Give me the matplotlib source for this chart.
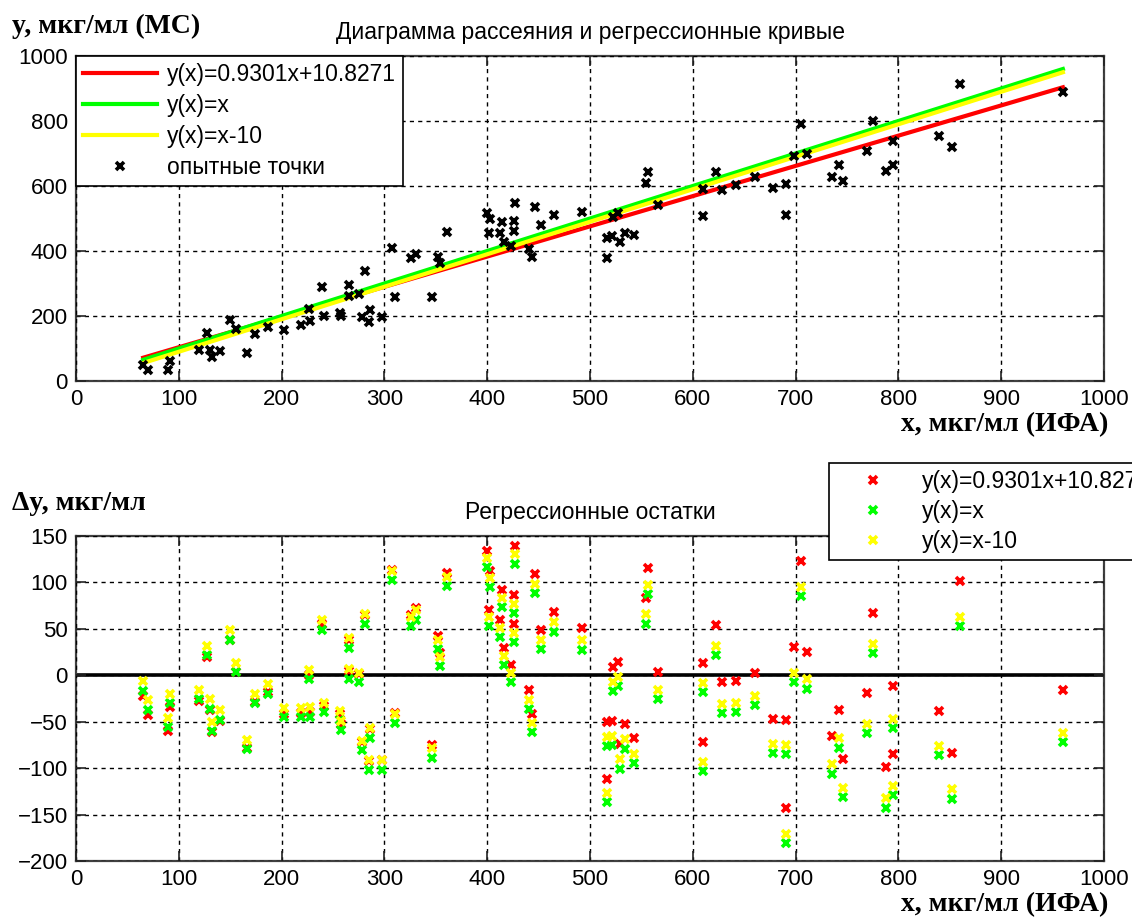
import numpy as np
import matplotlib
matplotlib.use("Agg")
import matplotlib.pyplot as plt
from matplotlib.lines import Line2D

# ---------------- data ----------------
x_exp = [65.4, 69.9, 89.7, 91.9, 119.4, 127.6, 130.8, 132.5, 139.9, 150.2,
         156.1, 166.4, 174.5, 186.9, 202.7, 218.5, 226.3, 228.0, 239.3, 241.0,
         257.1, 258.0, 265.2, 265.2, 275.0, 281.4, 278.2, 286.3, 284.7, 297.7,
         307.4, 309.9, 326.0, 331.0, 346.2, 351.7, 354.3, 360.8, 399.7, 403.0,
         401.3, 414.3, 425.6, 412.6, 426.5, 416.8, 423.3, 427.2, 441.1, 443.4,
         446.6, 452.2, 465.1, 492.0, 516.3, 516.5, 521.0, 522.8, 527.6, 529.3,
         534.1, 543.2, 554.5, 556.8, 566.5, 610.2, 610.2, 622.5, 628.0, 641.7,
         660.4, 677.6, 690.6, 690.6, 698.6, 705.1, 711.3, 735.0, 742.4, 745.7,
         769.0, 775.4, 788.4, 794.8, 794.8, 839.6, 852.6, 859.7, 960.0]
y_exp = [49.0, 33.0, 34.0, 62.0, 94.0, 149.0, 95.0, 72.5, 92.0, 188.6,
         159.7, 87.0, 144.7, 167.0, 157.8, 173.5, 222.0, 183.5, 288.5, 201.5,
         208.6, 198.7, 295.0, 261.6, 267.8, 337.0, 197.4, 219.0, 183.0, 196.0,
         409.8, 258.0, 379.0, 391.0, 257.5, 380.0, 364.0, 457.0, 516.4, 498.0,
         454.0, 488.0, 492.8, 454.0, 462.4, 427.6, 416.0, 547.5, 405.0, 382.0,
         535.0, 480.0, 512.0, 519.7, 379.8, 440.5, 446.0, 505.6, 515.7, 428.8,
         455.0, 448.7, 610.0, 644.0, 541.0, 592.0, 507.0, 644.0, 587.5, 601.8,
         628.0, 594.0, 605.5, 510.0, 691.4, 790.0, 697.0, 629.0, 664.4, 614.6,
         707.0, 799.5, 645.8, 738.0, 665.5, 753.4, 719.7, 912.5, 888.0]

reg_slope = 0.9301
reg_intercept = 10.8271
shift = 10.0

legend_labels = ["y(x)=0.9301x+10.8271", "y(x)=x", "y(x)=x-10", "опытные точки"]
x_ticks = list(range(0, 1001, 100))
y_ticks_top = list(range(0, 1001, 200))
y_ticks_bot = list(range(-200, 151, 50))

title_top = "Диаграмма рассеяния и регрессионные кривые"
title_bot = "Регрессионные остатки"
ylabel_top = "y, мкг/мл (МС)"
ylabel_bot = "Δy, мкг/мл"
xlabel = "x, мкг/мл (ИФА)"

# ---------------- styling ----------------
RED, GREEN, YELLOW = "#FF0000", "#00FF00", "#FFFF00"
plt.rcParams["font.family"] = ["Liberation Sans", "DejaVu Sans"]
FS = 16.5
TFS = 16
MS, MEW = 6.3, 2.6
W, H = 1132, 919

x = np.array(x_exp)
y = np.array(y_exp)

fig = plt.figure(figsize=(W / 100, H / 100), dpi=100)

def box(l, t, r, b):
    return [l / W, 1 - b / H, (r - l) / W, (b - t) / H]

ax1 = fig.add_axes(box(76, 56, 1104, 381))
ax2 = fig.add_axes(box(76, 536, 1104, 861))

def style(ax, yt, ylim):
    ax.set_xlim(0, 1000)
    ax.set_ylim(*ylim)
    ax.set_xticks(x_ticks)
    ax.set_yticks(yt)
    ax.tick_params(direction="in", length=7, width=1.2, top=True, right=True,
                   labelsize=TFS, pad=6, colors="#222222", labelcolor="black")
    ax.grid(True, color="black", linestyle=(0, (3, 3)), linewidth=1.0)
    for s in ax.spines.values():
        s.set_linewidth(1.6)
        s.set_color("#404040")
    ax.set_axisbelow(False)

style(ax1, y_ticks_top, (0, 1000))
style(ax2, y_ticks_bot, (-200, 150))

# ---- top: scatter and regression lines ----
xl = np.array([x.min(), x.max()])
ax1.plot(xl, reg_slope * xl + reg_intercept, color=RED, lw=3.0, label=legend_labels[0], zorder=3)
ax1.plot(xl, xl, color=GREEN, lw=3.0, label=legend_labels[1], zorder=3)
ax1.plot(xl, xl - shift, color=YELLOW, lw=3.0, label=legend_labels[2], zorder=3)
ax1.plot(x, y, linestyle="none", marker="x", color="black", ms=MS, mew=MEW,
         label=legend_labels[3], zorder=4)
ax1.set_title(title_top, fontsize=FS, pad=12)

leg1 = ax1.legend(loc="upper left", bbox_to_anchor=(0, 1), borderaxespad=0,
                  fontsize=FS, frameon=True, fancybox=False, edgecolor="black",
                  framealpha=1, handlelength=3.2, handletextpad=0.45,
                  labelspacing=0.34, borderpad=0.32)
leg1.get_frame().set_linewidth(1.2)

# ---- bottom: residuals ----
res_red = y - (reg_slope * x + reg_intercept)
res_green = y - x
res_yellow = y - (x - shift)
ax2.axhline(0, color="black", lw=2.6, zorder=2)
ax2.plot(x, res_red, linestyle="none", marker="x", color=RED, ms=MS, mew=MEW, zorder=3)
ax2.plot(x, res_green, linestyle="none", marker="x", color=GREEN, ms=MS, mew=MEW, zorder=3)
ax2.plot(x, res_yellow, linestyle="none", marker="x", color=YELLOW, ms=MS, mew=MEW, zorder=3)
ax2.set_title(title_bot, fontsize=FS, pad=12)

handles2 = [Line2D([], [], linestyle="none", marker="x", color=c, ms=MS, mew=MEW)
            for c in (RED, GREEN, YELLOW)]
leg2 = fig.legend(handles2, legend_labels[:3], loc="upper left",
                  bbox_to_anchor=(829 / W, 1 - 463 / H), bbox_transform=fig.transFigure,
                  borderaxespad=0, fontsize=FS, frameon=True, fancybox=False,
                  edgecolor="black", framealpha=1, handlelength=3.2,
                  handletextpad=0.55, labelspacing=0.3, borderpad=0.32)
leg2.get_frame().set_linewidth(1.2)

# ---- axis labels (bold serif, placed like the original) ----
lab = dict(fontsize=20, fontweight="bold", family=["Liberation Serif", "DejaVu Serif"])
fig.text(12 / W, 1 - 26 / H, ylabel_top, ha="left", va="center", **lab)
fig.text(1108 / W, 1 - 425 / H, xlabel, ha="right", va="center", **lab)
fig.text(12 / W, 1 - 504 / H, ylabel_bot, ha="left", va="center", **lab)
fig.text(1108 / W, 1 - 905 / H, xlabel, ha="right", va="center", **lab)

fig.savefig("out.png", dpi=100)
